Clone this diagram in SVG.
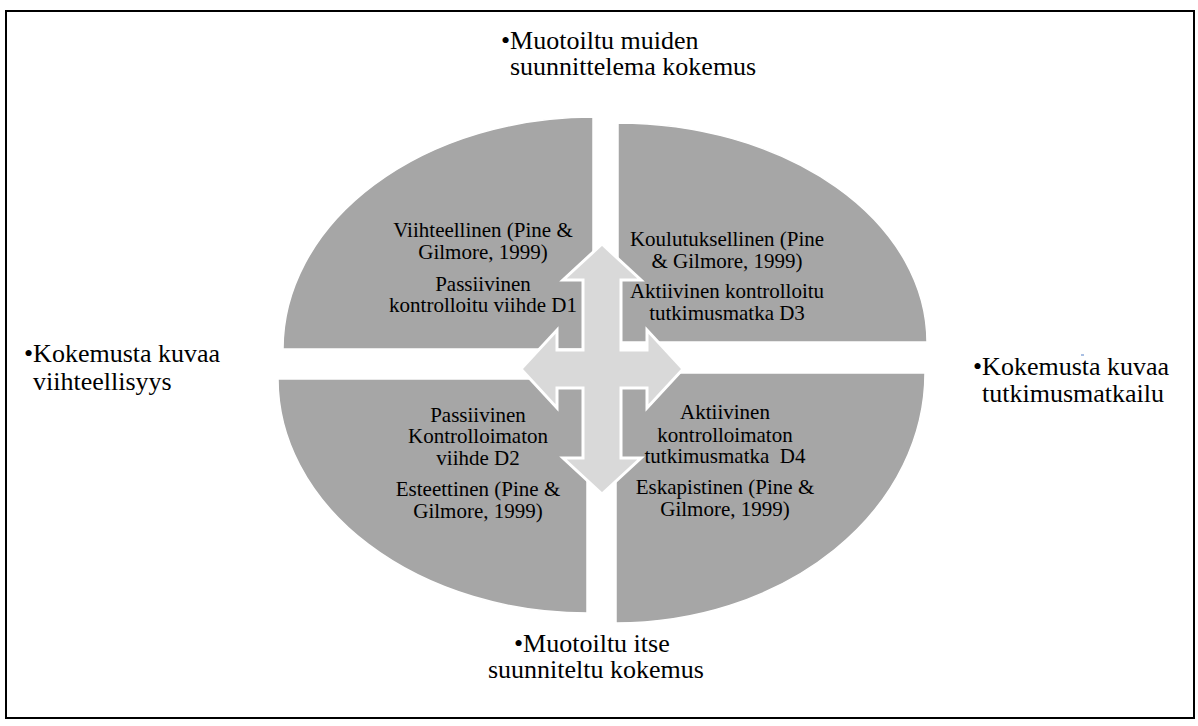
<svg xmlns="http://www.w3.org/2000/svg" width="1198" height="726" viewBox="0 0 1198 726">
<style>
.q{fill:#a6a6a6;stroke:#ffffff;stroke-width:1.5}
.arrow{fill:#d9d9d9;stroke:#ffffff;stroke-width:3;stroke-linejoin:miter}
text{font-family:'Liberation Serif','Times New Roman',Times,'DejaVu Serif',serif;fill:#000}
.t{font-size:21px;text-anchor:middle}
.o{font-size:26px}
</style>
<rect x="0" y="0" width="1198" height="726" fill="#ffffff"/>
<rect id="frame" x="6" y="11" width="1188" height="707" fill="none" stroke="#000" stroke-width="2"/>
<g id="q1">
<path class="q" d="M593,349 L283,349 A310,232 0 0 1 593,117 Z"/>
<text class="t" x="483" y="237">Viihteellinen (Pine &amp;</text>
<text class="t" x="483" y="259">Gilmore, 1999)</text>
<text class="t" x="483" y="291">Passiivinen</text>
<text class="t" x="483" y="312">kontrolloitu viihde D1</text>
</g>
<g id="q2">
<path class="q" d="M618,342 L618,123 A309,219 0 0 1 927,342 Z"/>
<text class="t" x="727" y="246">Koulutuksellinen (Pine</text>
<text class="t" x="727" y="268">&amp; Gilmore, 1999)</text>
<text class="t" x="727" y="298">Aktiivinen kontrolloitu</text>
<text class="t" x="727" y="320">tutkimusmatka D3</text>
</g>
<g id="q3">
<path class="q" d="M587,379 L587,613 A309,234 0 0 1 278,379 Z"/>
<text class="t" x="478" y="422">Passiivinen</text>
<text class="t" x="478" y="443">Kontrolloimaton</text>
<text class="t" x="478" y="465">viihde D2</text>
<text class="t" x="478" y="496">Esteettinen (Pine &amp;</text>
<text class="t" x="478" y="518">Gilmore, 1999)</text>
</g>
<g id="q4">
<path class="q" d="M616,373 L925,373 A309,250 0 0 1 616,623 Z"/>
<text class="t" x="725" y="419">Aktiivinen</text>
<text class="t" x="725" y="442">kontrolloimaton</text>
<text class="t" x="725" y="463" xml:space="preserve">tutkimusmatka  D4</text>
<text class="t" x="725" y="494">Eskapistinen (Pine &amp;</text>
<text class="t" x="725" y="516">Gilmore, 1999)</text>
</g>
<g id="connectors">
<polygon class="arrow" points="602,244 641,280 621,280 621,350 647,350 647,330 683,369 647,408 647,388 621,388 621,458 641,458 602,494 563,458 583,458 583,388 557,388 557,408 521,369 557,330 557,350 583,350 583,280 563,280"/>
</g>
<g id="label-top">
<text class="o" x="501" y="49">•Muotoiltu muiden</text>
<text class="o" x="510" y="75">suunnittelema kokemus</text>
</g>
<g id="label-left">
<text class="o" x="24" y="362">•Kokemusta kuvaa</text>
<text class="o" x="33" y="390">viihteellisyys</text>
</g>
<g id="label-right">
<text class="o" x="973" y="375">•Kokemusta kuvaa</text>
<text class="o" x="982" y="402">tutkimusmatkailu</text>
<rect x="1081" y="354" width="3" height="2" fill="#a9bfe3"/>
</g>
<g id="label-bottom">
<text class="o" x="514" y="652">•Muotoiltu itse</text>
<text class="o" x="488" y="678">suunniteltu kokemus</text>
</g>
</svg>
